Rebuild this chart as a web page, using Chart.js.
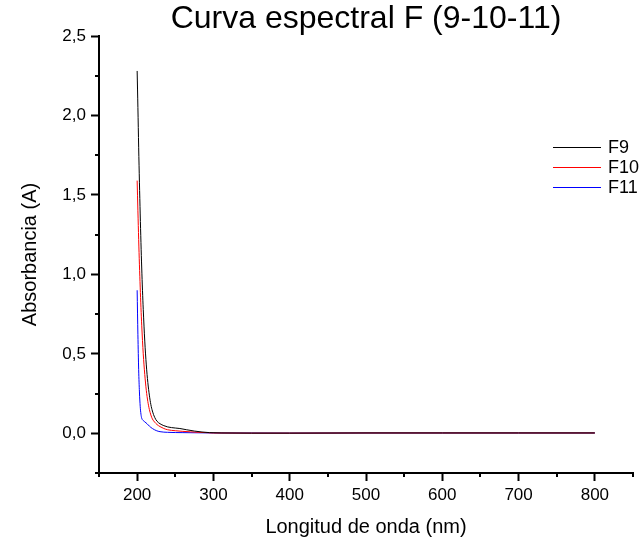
<!DOCTYPE html>
<html>
<head>
<meta charset="utf-8">
<title>Curva espectral F (9-10-11)</title>
<script src="https://cdn.jsdelivr.net/npm/chart.js@4.4.1/dist/chart.umd.min.js"></script>
<style>
  html, body { margin: 0; padding: 0; background: #fff; }
  #wrap { width: 644px; height: 540px; }
</style>
</head>
<body>
<div id="wrap"><canvas id="spectrum"></canvas></div>
<script>
// values (nm, absorbance)
const wavelengthF9 = [200, 201, 202, 203, 204, 205, 206, 207, 208, 210, 212, 214, 216, 218, 220, 223, 226, 230, 235, 240, 250, 256, 265, 275, 285, 295, 310, 350, 400, 500, 600, 700, 800];
const absorbanceF9 = [2.28, 2.05, 1.8, 1.58, 1.38, 1.2, 1.04, 0.9, 0.78, 0.58, 0.43, 0.32, 0.24, 0.18, 0.14, 0.1, 0.076, 0.06, 0.048, 0.04, 0.033, 0.03, 0.022, 0.014, 0.008, 0.004, 0.002, 0.001, 0.001, 0.002, 0.002, 0.002, 0.002];

const wavelengthF10 = [200, 201, 202, 203, 204, 205, 206, 208, 210, 212, 214, 216, 218, 220, 223, 226, 230, 235, 240, 250, 260, 270, 280, 290, 300, 350, 400, 500, 600, 700, 800];
const absorbanceF10 = [1.59, 1.4, 1.22, 1.06, 0.92, 0.79, 0.68, 0.5, 0.37, 0.27, 0.2, 0.15, 0.115, 0.09, 0.07, 0.055, 0.042, 0.03, 0.022, 0.016, 0.012, 0.009, 0.006, 0.004, 0.002, 0.001, 0.001, 0.002, 0.002, 0.002, 0.002];

const wavelengthF11 = [200, 201, 202, 203, 204, 205, 206, 208, 210, 213, 216, 220, 225, 230, 240, 260, 300, 400, 500, 600, 700, 800];
const absorbanceF11 = [0.9, 0.62, 0.4, 0.26, 0.17, 0.12, 0.095, 0.08, 0.072, 0.06, 0.045, 0.03, 0.017, 0.01, 0.006, 0.004, 0.002, 0.001, 0.002, 0.002, 0.002, 0.002];

const xTickLabels = ["200", "300", "400", "500", "600", "700", "800"];
const yTickLabels = ["0,0", "0,5", "1,0", "1,5", "2,0", "2,5"];

const FONT = "'Liberation Sans', Arial, sans-serif";

function toPoints(xs, ys) {
  return xs.map((x, i) => ({ x, y: ys[i] }));
}

function isMajorX(v) {
  return Math.abs(v % 100) < 1e-6;
}

function isMajorY(v) {
  return Math.abs(v * 2 - Math.round(v * 2)) < 1e-6;
}

// short minor ticks, Origin style
const minorTicks = {
  id: "minorTicks",
  afterDraw(chart) {
    const { ctx } = chart;
    const x = chart.scales.x;
    const y = chart.scales.y;
    ctx.save();
    ctx.strokeStyle = "#000";
    ctx.lineWidth = 2;
    ctx.beginPath();
    x.ticks.forEach((t) => {
      if (isMajorX(t.value)) return;
      const px = Math.round(x.getPixelForValue(t.value));
      ctx.moveTo(px, x.top);
      ctx.lineTo(px, x.top + 4);
    });
    y.ticks.forEach((t) => {
      if (isMajorY(t.value)) return;
      const py = Math.round(y.getPixelForValue(t.value));
      ctx.moveTo(y.right - 4, py);
      ctx.lineTo(y.right, py);
    });
    ctx.stroke();
    ctx.restore();
  },
};

// legend sitting inside the plot, top right
const insideLegend = {
  id: "insideLegend",
  afterDraw(chart) {
    const { ctx } = chart;
    const area = chart.chartArea;
    const lineStart = area.right - 80;
    const lineEnd = area.right - 32;
    const top = 147;
    const gap = 20;
    ctx.save();
    ctx.font = "18px " + FONT;
    ctx.textBaseline = "middle";
    ctx.fillStyle = "#000";
    chart.data.datasets.forEach((ds, i) => {
      const y = top + i * gap;
      ctx.strokeStyle = ds.borderColor;
      ctx.lineWidth = 1;
      ctx.beginPath();
      ctx.moveTo(lineStart, y + 0.5);
      ctx.lineTo(lineEnd, y + 0.5);
      ctx.stroke();
      ctx.fillText(ds.label, lineEnd + 7, y + 1);
    });
    ctx.restore();
  },
};

new Chart(document.getElementById("spectrum"), {
  type: "line",
  data: {
    datasets: [
      { label: "F9", data: toPoints(wavelengthF9, absorbanceF9), borderColor: "#000000" },
      { label: "F10", data: toPoints(wavelengthF10, absorbanceF10), borderColor: "#ff0000" },
      { label: "F11", data: toPoints(wavelengthF11, absorbanceF11), borderColor: "#0000ff" },
    ],
  },
  options: {
    animation: false,
    responsive: true,
    maintainAspectRatio: false,
    devicePixelRatio: 1,
    layout: { padding: { left: 0, right: 11, top: 0, bottom: 0 } },
    elements: {
      point: { radius: 0 },
      line: { borderWidth: 1, tension: 0.3, cubicInterpolationMode: "monotone" },
    },
    plugins: {
      legend: { display: false },
      tooltip: { enabled: false },
      title: {
        display: true,
        fullSize: false,
        text: "Curva espectral F (9-10-11)",
        color: "#000",
        font: { family: FONT, size: 32, weight: "normal", lineHeight: 1 },
        padding: { top: 3, bottom: 1 },
      },
    },
    scales: {
      x: {
        type: "linear",
        min: 150,
        max: 850,
        afterFit(scale) { scale.height = 67; },
        border: { display: true, color: "#000", width: 2 },
        grid: {
          drawOnChartArea: false,
          tickLength: 8,
          tickWidth: 2,
          tickColor: (c) => (c.tick && isMajorX(c.tick.value) ? "#000" : "rgba(0,0,0,0)"),
        },
        ticks: {
          stepSize: 50,
          autoSkip: false,
          maxRotation: 0,
          padding: 4,
          color: "#000",
          font: { family: FONT, size: 17 },
          callback: (v) => xTickLabels.find((s) => Number(s) === v) || "",
        },
        title: {
          display: true,
          text: "Longitud de onda (nm)",
          color: "#000",
          font: { family: FONT, size: 20 },
          padding: { top: 0, bottom: 1 },
        },
      },
      y: {
        type: "linear",
        min: -0.25,
        max: 2.5,
        afterFit(scale) { scale.width = 99; },
        border: { display: true, color: "#000", width: 2 },
        grid: {
          drawOnChartArea: false,
          tickLength: 8,
          tickWidth: 2,
          tickColor: (c) => (c.tick && isMajorY(c.tick.value) ? "#000" : "rgba(0,0,0,0)"),
        },
        ticks: {
          stepSize: 0.25,
          autoSkip: false,
          padding: 5,
          color: "#000",
          font: { family: FONT, size: 17 },
          callback: (v) => {
            if (!isMajorY(v) || v < 0) return "";
            return yTickLabels[Math.round(v * 2)];
          },
        },
        title: {
          display: true,
          text: "Absorbancia (A)",
          color: "#000",
          font: { family: FONT, size: 20 },
          padding: { top: 18, bottom: 0 },
        },
      },
    },
  },
  plugins: [minorTicks, insideLegend],
});
</script>
</body>
</html>
